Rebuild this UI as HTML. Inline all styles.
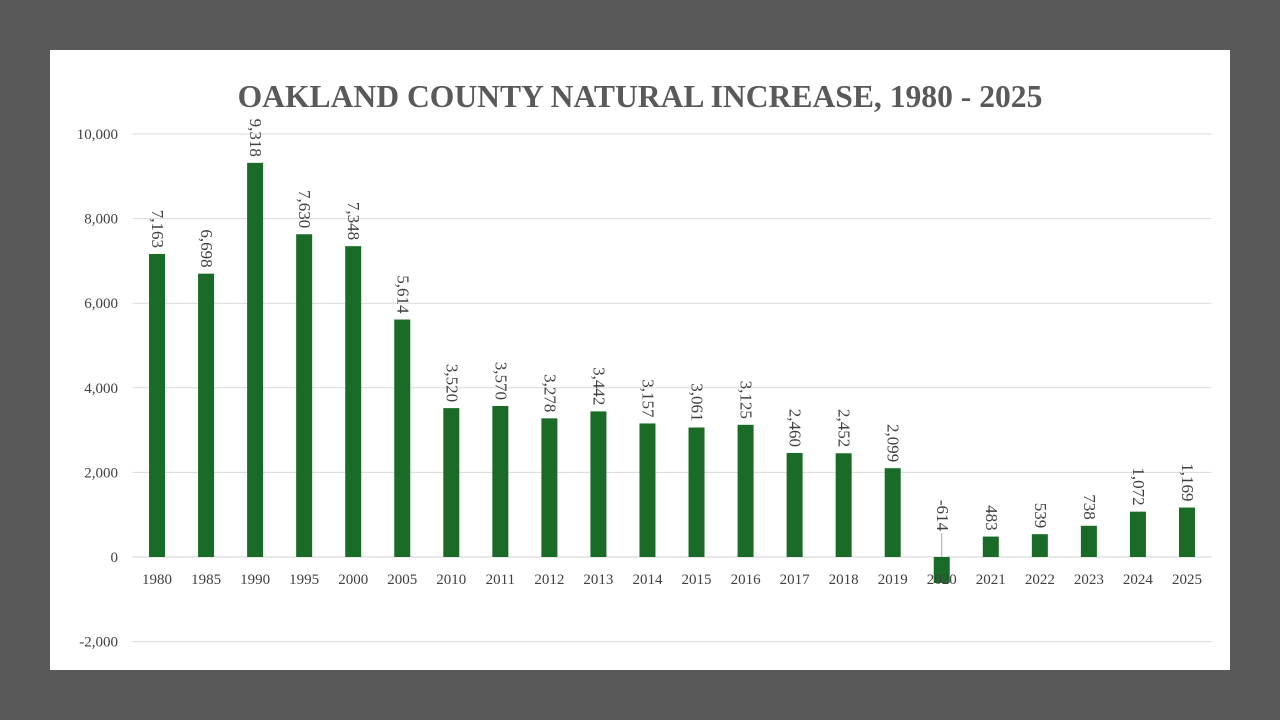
<!DOCTYPE html>
<html><head><meta charset="utf-8"><style>
body{margin:0;background:#595959;width:1280px;height:720px;overflow:hidden}
#panel{position:absolute;left:50px;top:50px;width:1180px;height:620px;background:#fff}
svg{position:absolute;left:0;top:0}
text{font-family:"Liberation Serif",serif;fill:#404040}
</style></head><body>
<div id="panel"></div>
<svg id="chart" width="1280" height="720">
<text x="640" y="107" text-anchor="middle" font-size="31.6" font-weight="bold" style="fill:#595959">OAKLAND COUNTY NATURAL INCREASE, 1980 - 2025</text>
</svg>
<script>
const categories=["1980","1985","1990","1995","2000","2005","2010","2011","2012","2013","2014","2015","2016","2017","2018","2019","2020","2021","2022","2023","2024","2025"];
const values=[7163,6698,9318,7630,7348,5614,3520,3570,3278,3442,3157,3061,3125,2460,2452,2099,-614,483,539,738,1072,1169];
const valueLabels=["7,163","6,698","9,318","7,630","7,348","5,614","3,520","3,570","3,278","3,442","3,157","3,061","3,125","2,460","2,452","2,099","-614","483","539","738","1,072","1,169"];
const yTicks=[-2000,0,2000,4000,6000,8000,10000];
const yTickLabels=["-2,000","0","2,000","4,000","6,000","8,000","10,000"];
const NS="http://www.w3.org/2000/svg";
const svg=document.getElementById('chart');
const left=132.5,right=1211.5,y0=557,yPer=423/10000;
const step=(right-left)/categories.length;
const y=v=>y0-v*yPer;
const xc=i=>left+step*(i+0.5);
function mk(t,a){const e=document.createElementNS(NS,t);for(const k in a)e.setAttribute(k,a[k]);svg.appendChild(e);return e;}
yTicks.forEach((t,i)=>{
  const g=mk('line',{x1:left,x2:right,y1:y(t),y2:y(t),stroke:t===0?'#d0d0d0':'#d9d9d9','stroke-width':1});
  
  
  const l=mk('text',{x:118,y:y(t)+5,'text-anchor':'end','font-size':15});
  l.textContent=yTickLabels[i];
  
  
});
categories.forEach((c,i)=>{
  const v=values[i],bw=16;
  const top=Math.min(y(v),y0),h=Math.abs(y(v)-y0);
  const b=mk('rect',{x:xc(i)-bw/2,y:top,width:bw,height:h,fill:'#1a6b28'});
  
  
  const xl=mk('text',{x:xc(i),y:584,'text-anchor':'middle','font-size':15});
  xl.textContent=c;
  
  
  let ly;
  if(v>=0){ly=y(v)-6;}else{ly=y0-26;
    const ld=mk('line',{x1:xc(i),x2:xc(i),y1:ly+2,y2:y0,stroke:'#a6a6a6','stroke-width':1});
    
    }
  const vl=mk('text',{x:0,y:5,'text-anchor':'end','font-size':17,transform:`translate(${xc(i)},${ly}) rotate(90)`});
  vl.textContent=valueLabels[i];
  
  
});
</script>
</body></html>
